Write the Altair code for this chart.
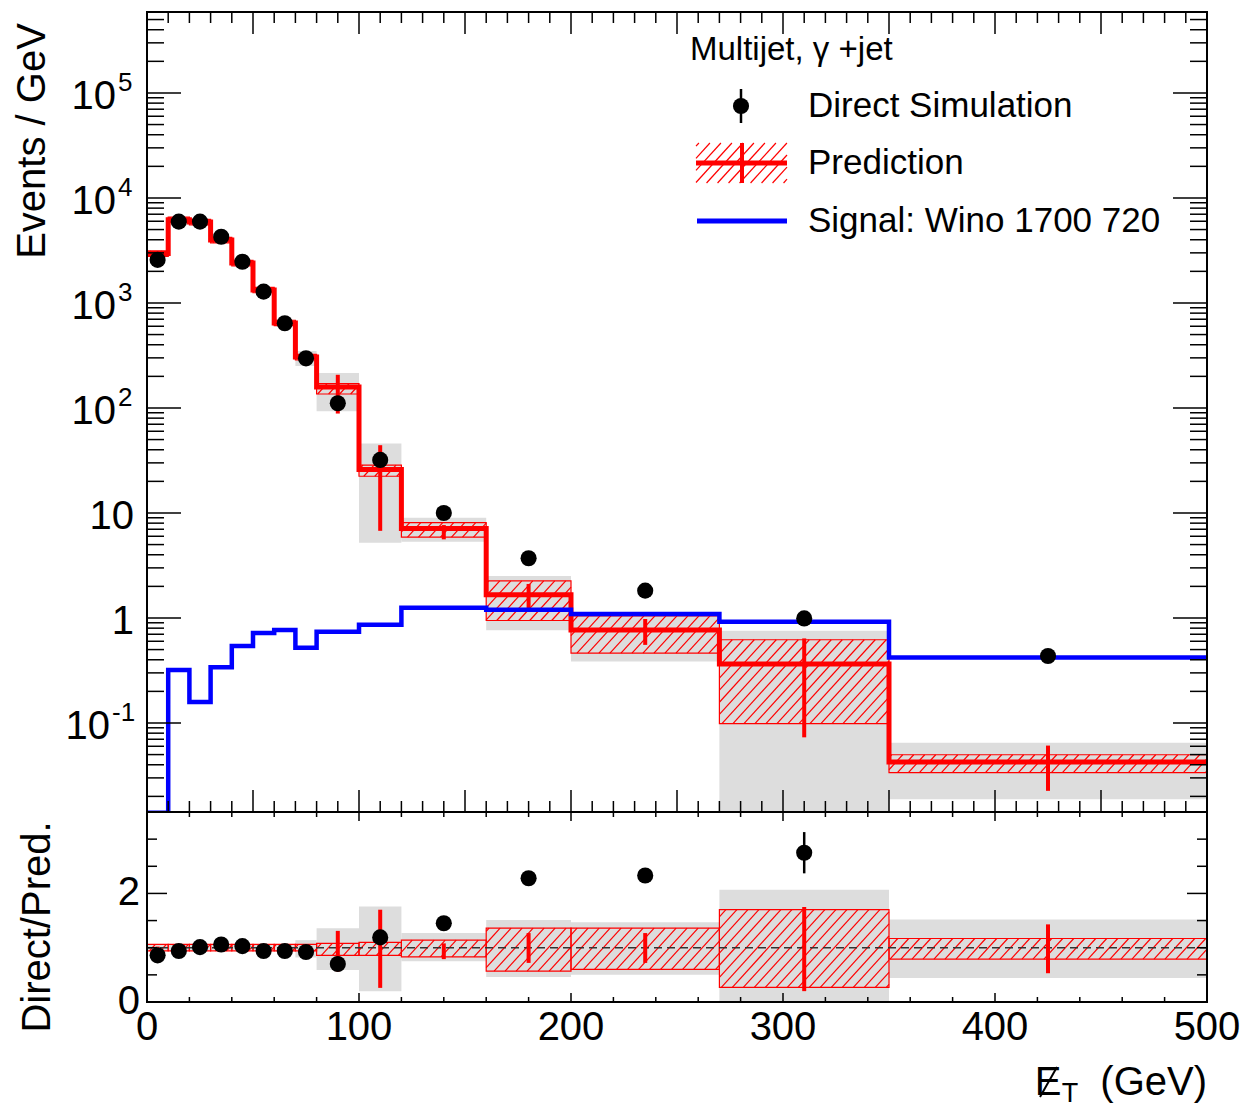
import math
import numpy as np
import pandas as pd
import altair as alt

# ------------------------------------------------------------------ data
bin_lo = [0, 10, 20, 30, 40, 50, 60, 70, 80, 100, 120, 160, 200, 270, 350]
bin_hi = [10, 20, 30, 40, 50, 60, 70, 80, 100, 120, 160, 200, 270, 350, 500]

prediction = [2950, 6200, 5900, 3980, 2400, 1330, 646, 306, 158, 26, 7.1, 1.66, 0.77, 0.365, 0.0426]
direct = [2570, 5950, 5950, 4270, 2470, 1282, 641, 297, 111, 32, 10.0, 3.7, 1.82, 0.99, 0.435]
direct_rel_err = [0.01, 0.01, 0.01, 0.01, 0.01, 0.02, 0.02, 0.02, 0.05, 0.07, 0.05, 0.05, 0.05, 0.14, 0.12]
signal = [0.014, 0.32, 0.158, 0.34, 0.54, 0.72, 0.77, 0.52, 0.74, 0.86, 1.25, 1.2, 1.09, 0.92, 0.42]

# ratio panel (Direct / Pred.)
ratio = [0.86, 0.94, 1.01, 1.06, 1.03, 0.94, 0.94, 0.92, 0.70, 1.19, 1.45, 2.28, 2.33, 2.75, None]
ratio_err = [0.02, 0.02, 0.02, 0.02, 0.02, 0.02, 0.02, 0.02, 0.04, 0.08, 0.06, 0.10, 0.10, 0.38, None]

# relative uncertainty bands of the prediction
gray_lo_rel = [0.95, 0.95, 0.95, 0.95, 0.95, 0.95, 0.93, 0.82, 0.59, 0.20, 0.75, 0.46, 0.50, 0.00, 0.44]
gray_hi_rel = [1.05, 1.05, 1.05, 1.05, 1.05, 1.05, 1.07, 1.14, 1.36, 1.76, 1.27, 1.51, 1.47, 2.07, 1.52]
hatch_lo_rel = [0.94, 0.94, 0.94, 0.94, 0.94, 0.94, 0.94, 0.94, 0.86, 0.86, 0.83, 0.57, 0.60, 0.27, 0.79]
hatch_hi_rel = [1.06, 1.06, 1.06, 1.06, 1.06, 1.06, 1.06, 1.06, 1.08, 1.10, 1.14, 1.36, 1.36, 1.70, 1.17]
stat_lo_rel = [0.98, 0.98, 0.98, 0.98, 0.98, 0.98, 0.98, 0.98, 0.56, 0.26, 0.79, 0.72, 0.72, 0.20, 0.53]
stat_hi_rel = [1.02, 1.02, 1.02, 1.02, 1.02, 1.02, 1.02, 1.02, 1.31, 1.70, 1.08, 1.27, 1.27, 1.75, 1.43]

# axis tick labels
x_label_values = [0, 100, 200, 300, 400, 500]
y_label_values = [0.1, 1, 10, 100, 1000, 10000, 100000]
y_label_base = ["10", "1", "10", "10", "10", "10", "10"]
y_label_exp = ["-1", "", "", "2", "3", "4", "5"]
r_label_values = [0, 2]

legend_header = "Multijet, \u03b3 +jet"
legend_labels = ["Direct Simulation", "Prediction", "Signal: Wino 1700 720"]
y_title = "Events / GeV"
r_title = "Direct/Pred."

# ------------------------------------------------------------------ geometry / style
FONT = "Liberation Sans"
W, H = 1060, 800
H2 = 190
X_MIN, X_MAX = 0, 500
Y_MIN, Y_MAX = 0.0142, 5.9e5
R_MIN, R_MAX = 0.0, 3.5
RED, BLUE, GRAY = "#ff0000", "#0000ff", "#dddddd"

a_px = W / (X_MAX - X_MIN)
b_px = H / (math.log10(Y_MAX) - math.log10(Y_MIN))
b2_px = H2 / (R_MAX - R_MIN)
HATCH_T = 1.1
HATCH_DX = 11.0

xs = alt.Scale(domain=[X_MIN, X_MAX], nice=False, zero=False)
ys = alt.Scale(type="log", domain=[Y_MIN, Y_MAX], nice=False)
yr = alt.Scale(domain=[R_MIN, R_MAX], nice=False, zero=False)


def hatch(x0, x1, s0, s1):
    segs = []
    dc = HATCH_DX * HATCH_T
    k0 = int(math.ceil((s0 - HATCH_T * x1) / dc))
    k1 = int(math.floor((s1 - HATCH_T * x0) / dc))
    for k in range(k0, k1 + 1):
        c = k * dc
        xa = max(x0, (s0 - c) / HATCH_T)
        xb = min(x1, (s1 - c) / HATCH_T)
        if xb - xa > 0.3:
            segs.append((xa, HATCH_T * xa + c, xb, HATCH_T * xb + c))
    return segs


n = len(bin_lo)
df = pd.DataFrame({"lo": bin_lo, "hi": bin_hi, "pred": prediction, "direct": direct,
                   "sig": signal})
df["mid"] = (df.lo + df.hi) / 2
pred = np.array(prediction)
df["g_lo"] = np.maximum(pred * np.array(gray_lo_rel), Y_MIN * 0.05)
df["g_hi"] = pred * np.array(gray_hi_rel)
df["h_lo"] = pred * np.array(hatch_lo_rel)
df["h_hi"] = pred * np.array(hatch_hi_rel)
df["s_lo"] = pred * np.array(stat_lo_rel)
df["s_hi"] = pred * np.array(stat_hi_rel)
df["d_lo"] = np.array(direct) * (1 - np.array(direct_rel_err))
df["d_hi"] = np.array(direct) * (1 + np.array(direct_rel_err))

step_pred = pd.DataFrame({"x": bin_lo + [bin_hi[-1]], "y": prediction + [prediction[-1]]})
step_sig = pd.DataFrame({"x": bin_lo + [bin_hi[-1]], "y": signal + [signal[-1]]})

# hatch segments, main panel
segs = []
for i in range(n):
    s0 = math.log10(df.h_lo[i]) * b_px
    s1 = math.log10(df.h_hi[i]) * b_px
    for xa, sa, xb, sb in hatch(bin_lo[i] * a_px, bin_hi[i] * a_px, s0, s1):
        segs.append({"x": xa / a_px, "y": 10 ** (sa / b_px), "x2": xb / a_px, "y2": 10 ** (sb / b_px)})
hatch_main = pd.DataFrame(segs)

# legend hatch (pixel box converted through the scales)
LEG_BOX = (549, 640, 131, 171)
lsegs = []
for xa, sa, xb, sb in hatch(LEG_BOX[0], LEG_BOX[1], -LEG_BOX[3], -LEG_BOX[2]):
    lsegs.append({"x": xa / a_px, "y": 10 ** (math.log10(Y_MAX) + sa / b_px),
                  "x2": xb / a_px, "y2": 10 ** (math.log10(Y_MAX) + sb / b_px)})
hatch_leg = pd.DataFrame(lsegs)

# ratio panel tables
dr = pd.DataFrame({"lo": bin_lo, "hi": bin_hi})
dr["mid"] = (dr.lo + dr.hi) / 2
dr["g_lo"] = gray_lo_rel
dr["g_hi"] = gray_hi_rel
dr["h_lo"] = hatch_lo_rel
dr["h_hi"] = hatch_hi_rel
dr["s_lo"] = stat_lo_rel
dr["s_hi"] = stat_hi_rel
pts = pd.DataFrame({"mid": dr.mid, "r": ratio, "e": ratio_err}).dropna()
pts["r_lo"] = pts.r - pts.e
pts["r_hi"] = pts.r + pts.e

rsegs = []
for i in range(n):
    for xa, sa, xb, sb in hatch(bin_lo[i] * a_px, bin_hi[i] * a_px,
                                hatch_lo_rel[i] * b2_px, hatch_hi_rel[i] * b2_px):
        rsegs.append({"x": xa / a_px, "y": sa / b2_px, "x2": xb / a_px, "y2": sb / b2_px})
hatch_ratio = pd.DataFrame(rsegs)


def one(text=""):
    return alt.Chart(pd.DataFrame({"t": [text]}))


def txt(text, x, y, size, align="left", angle=0):
    kw = dict(font=FONT, fontSize=size, align=align, baseline="middle", color="black")
    if angle:
        kw["angle"] = angle
    return one(text).mark_text(**kw).encode(x=alt.value(x), y=alt.value(y), text="t:N")


X = lambda f: alt.X(f, scale=xs, axis=None)
Y = lambda f: alt.Y(f, scale=ys, axis=None)
YR = lambda f: alt.Y(f, scale=yr, axis=None)

# ------------------------------------------------------------------ upper panel
base = alt.Chart(df)
gray_main = base.mark_rect(color=GRAY, clip=True).encode(x=X("lo:Q"), x2="hi:Q", y=Y("g_lo:Q"), y2="g_hi:Q")
hatch_lines = alt.Chart(hatch_main).mark_rule(color=RED, strokeWidth=1.2, clip=True).encode(
    x=X("x:Q"), x2="x2:Q", y=Y("y:Q"), y2="y2:Q")
hatch_box = base.mark_rect(fillOpacity=0, stroke=RED, strokeWidth=1.2, clip=True).encode(
    x=X("lo:Q"), x2="hi:Q", y=Y("h_lo:Q"), y2="h_hi:Q")
stat_bars = base.mark_rule(color=RED, strokeWidth=4, clip=True).encode(
    x=X("mid:Q"), y=Y("s_lo:Q"), y2="s_hi:Q")
red_line = alt.Chart(step_pred).mark_line(color=RED, strokeWidth=5, interpolate="step-after",
                                          clip=True, strokeJoin="miter").encode(x=X("x:Q"), y=Y("y:Q"))
blue_line = alt.Chart(step_sig).mark_line(color=BLUE, strokeWidth=4.5, interpolate="step-after",
                                          clip=True, strokeJoin="miter").encode(x=X("x:Q"), y=Y("y:Q"))
d_err = base.mark_rule(color="black", strokeWidth=2.5, clip=True).encode(x=X("mid:Q"), y=Y("d_lo:Q"), y2="d_hi:Q")
d_pts = base.mark_circle(color="black", size=260, opacity=1, clip=True).encode(x=X("mid:Q"), y=Y("direct:Q"))

# ticks upper
xt = pd.DataFrame({"v": list(range(X_MIN, X_MAX + 1, 10))})
xt_long = xt[xt.v % 50 == 0]
xt_short = xt[xt.v % 50 != 0]
yt_vals = []
for k in range(-2, 6):
    for m in range(1, 10):
        v = m * 10.0 ** k
        if Y_MIN <= v <= Y_MAX:
            yt_vals.append((v, m == 1))
yt = pd.DataFrame(yt_vals, columns=["v", "major"])
yt_major = yt[yt.major]
yt_minor = yt[~yt.major]

tick_layers_up = []
for dfx, ln in ((xt_long, 22), (xt_short, 11)):
    tick_layers_up.append(alt.Chart(dfx).mark_rule(color="black", strokeWidth=1.5).encode(
        x=X("v:Q"), y=alt.value(H), y2=alt.value(H - ln)))
    tick_layers_up.append(alt.Chart(dfx).mark_rule(color="black", strokeWidth=1.5).encode(
        x=X("v:Q"), y=alt.value(0), y2=alt.value(ln)))
for dfy, ln in ((yt_major, 34), (yt_minor, 17)):
    tick_layers_up.append(alt.Chart(dfy).mark_rule(color="black", strokeWidth=1.5).encode(
        y=Y("v:Q"), x=alt.value(0), x2=alt.value(ln)))
    tick_layers_up.append(alt.Chart(dfy).mark_rule(color="black", strokeWidth=1.5).encode(
        y=Y("v:Q"), x=alt.value(W), x2=alt.value(W - ln)))

# y labels upper
lab = pd.DataFrame({"v": y_label_values, "base": y_label_base, "exp": y_label_exp})
lab["elen"] = lab.exp.str.len()
plain = lab[lab.elen == 0]
with_exp1 = lab[lab.elen == 1]
with_exp2 = lab[lab.elen == 2]
ylab_layers = [
    alt.Chart(plain).mark_text(font=FONT, fontSize=40, align="right", baseline="middle", dy=4).encode(
        x=alt.value(-13), y=Y("v:Q"), text="base:N"),
    alt.Chart(with_exp1).mark_text(font=FONT, fontSize=40, align="right", baseline="middle", dy=4).encode(
        x=alt.value(-31), y=Y("v:Q"), text="base:N"),
    alt.Chart(with_exp1).mark_text(font=FONT, fontSize=26, align="left", baseline="middle", dy=-10).encode(
        x=alt.value(-29), y=Y("v:Q"), text="exp:N"),
    alt.Chart(with_exp2).mark_text(font=FONT, fontSize=40, align="right", baseline="middle", dy=4).encode(
        x=alt.value(-37), y=Y("v:Q"), text="base:N"),
    alt.Chart(with_exp2).mark_text(font=FONT, fontSize=26, align="left", baseline="middle", dy=-10).encode(
        x=alt.value(-35), y=Y("v:Q"), text="exp:N"),
]

# legend
leg_hatch = alt.Chart(hatch_leg).mark_rule(color=RED, strokeWidth=1.2).encode(
    x=X("x:Q"), x2="x2:Q", y=Y("y:Q"), y2="y2:Q")
legend_layers = [
    txt(legend_header, 543, 38, 33),
    one().mark_rule(color="black", strokeWidth=2.5).encode(x=alt.value(594), y=alt.value(77), y2=alt.value(111)),
    one().mark_circle(color="black", size=260, opacity=1).encode(x=alt.value(594), y=alt.value(94)),
    txt(legend_labels[0], 661, 94, 35),
    leg_hatch,
    one().mark_rule(color=RED, strokeWidth=5).encode(x=alt.value(549), x2=alt.value(640), y=alt.value(151)),
    one().mark_rule(color=RED, strokeWidth=4).encode(x=alt.value(595), y=alt.value(131), y2=alt.value(171)),
    txt(legend_labels[1], 661, 151, 35),
    one().mark_rule(color=BLUE, strokeWidth=5).encode(x=alt.value(550), x2=alt.value(640), y=alt.value(209)),
    txt(legend_labels[2], 661, 209, 35),
]

frame_up = one().mark_rect(fillOpacity=0, stroke="black", strokeWidth=2).encode(
    x=alt.value(0), x2=alt.value(W), y=alt.value(0), y2=alt.value(H))

upper = alt.layer(
    gray_main, hatch_lines, hatch_box, stat_bars, red_line, blue_line, d_err, d_pts,
    *tick_layers_up, *ylab_layers, *legend_layers,
    txt(y_title, -114, 129, 40, align="center", angle=270),
    frame_up,
).properties(width=W, height=H)

# ------------------------------------------------------------------ ratio panel
rb = alt.Chart(dr)
gray_r = rb.mark_rect(color=GRAY, clip=True).encode(x=X("lo:Q"), x2="hi:Q", y=YR("g_lo:Q"), y2="g_hi:Q")
hatch_r = alt.Chart(hatch_ratio).mark_rule(color=RED, strokeWidth=1.2, clip=True).encode(
    x=X("x:Q"), x2="x2:Q", y=YR("y:Q"), y2="y2:Q")
box_r = rb.mark_rect(fillOpacity=0, stroke=RED, strokeWidth=1.2, clip=True).encode(
    x=X("lo:Q"), x2="hi:Q", y=YR("h_lo:Q"), y2="h_hi:Q")
one_line = alt.Chart(pd.DataFrame({"y": [1.0]})).mark_rule(
    color="#333333", strokeWidth=1.5, strokeDash=[8, 5]).encode(y=YR("y:Q"), x=alt.value(0), x2=alt.value(W))
stat_r = rb.mark_rule(color=RED, strokeWidth=4, clip=True).encode(x=X("mid:Q"), y=YR("s_lo:Q"), y2="s_hi:Q")
err_r = alt.Chart(pts).mark_rule(color="black", strokeWidth=2.5, clip=True).encode(
    x=X("mid:Q"), y=YR("r_lo:Q"), y2="r_hi:Q")
pts_r = alt.Chart(pts).mark_circle(color="black", size=260, opacity=1, clip=True).encode(
    x=X("mid:Q"), y=YR("r:Q"))

xt2 = pd.DataFrame({"v": list(range(X_MIN, X_MAX + 1, 20))})
xt2_long = xt2[xt2.v % 100 == 0]
xt2_short = xt2[xt2.v % 100 != 0]
rt = pd.DataFrame({"v": [i * 0.5 for i in range(8)]})
rt_major = rt[rt.v.isin([0.0, 2.0])]
rt_minor = rt[~rt.v.isin([0.0, 2.0])]
tick_layers_r = []
for dfx, ln in ((xt2_long, 9), (xt2_short, 5)):
    tick_layers_r.append(alt.Chart(dfx).mark_rule(color="black", strokeWidth=1.5).encode(
        x=X("v:Q"), y=alt.value(H2), y2=alt.value(H2 - ln)))
    tick_layers_r.append(alt.Chart(dfx).mark_rule(color="black", strokeWidth=1.5).encode(
        x=X("v:Q"), y=alt.value(0), y2=alt.value(ln)))
for dfy, ln in ((rt_major, 20), (rt_minor, 10)):
    tick_layers_r.append(alt.Chart(dfy).mark_rule(color="black", strokeWidth=1.5).encode(
        y=YR("v:Q"), x=alt.value(0), x2=alt.value(ln)))
    tick_layers_r.append(alt.Chart(dfy).mark_rule(color="black", strokeWidth=1.5).encode(
        y=YR("v:Q"), x=alt.value(W), x2=alt.value(W - ln)))

xlab = pd.DataFrame({"v": x_label_values, "t": [str(v) for v in x_label_values]})
rlab = pd.DataFrame({"v": r_label_values, "t": [str(v) for v in r_label_values]})
label_layers_r = [
    alt.Chart(xlab).mark_text(font=FONT, fontSize=40, align="center", baseline="middle").encode(
        x=X("v:Q"), y=alt.value(216), text="t:N"),
    alt.Chart(rlab).mark_text(font=FONT, fontSize=40, align="right", baseline="middle").encode(
        x=alt.value(-7), y=YR("v:Q"), text="t:N"),
    txt(r_title, -109, 115, 40, align="center", angle=270),
    txt("(GeV)", W, 271, 40, align="right"),
    txt("E", 901, 271, 40, align="center"),
    one().mark_rule(color="black", strokeWidth=2).encode(
        x=alt.value(893), x2=alt.value(910), y=alt.value(285), y2=alt.value(255)),
    txt("T", 923, 282, 27, align="center"),
]
frame_r = one().mark_rect(fillOpacity=0, stroke="black", strokeWidth=2).encode(
    x=alt.value(0), x2=alt.value(W), y=alt.value(0), y2=alt.value(H2))

lower = alt.layer(
    gray_r, hatch_r, box_r, one_line, stat_r, err_r, pts_r,
    *tick_layers_r, *label_layers_r, frame_r,
).properties(width=W, height=H2)

chart = alt.vconcat(upper, lower, spacing=0, bounds="flush").properties(
    padding={"left": 5, "top": 3, "right": 5, "bottom": 5}
).configure_view(strokeWidth=0)

chart.save("out.html", embed_options={"renderer": "svg", "actions": False})
